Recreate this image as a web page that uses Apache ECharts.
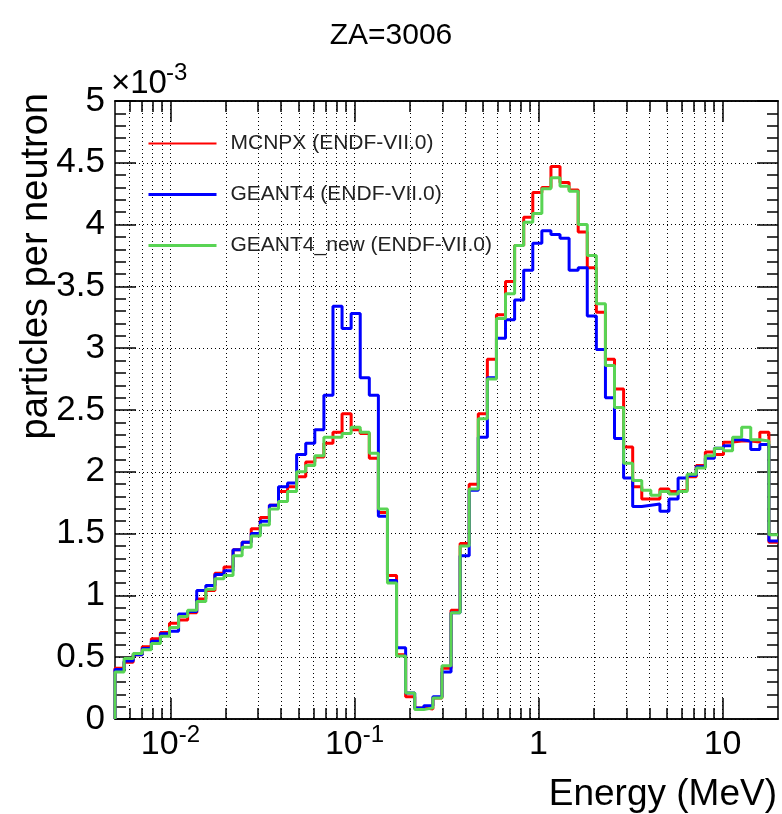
<!DOCTYPE html>
<html><head><meta charset="utf-8">
<script src="https://cdn.jsdelivr.net/npm/echarts@6.0.0/dist/echarts.min.js"></script>
<style>html,body{margin:0;padding:0;background:#fff}#c{width:782px;height:814px}</style>
</head><body><div id="c"></div>
<script>
const FONT = '"Liberation Sans", Arial, Helvetica, sans-serif';
const chartTitle = 'ZA=3006';
const xTitle = 'Energy (MeV)';
const yTitle = 'particles per neutron';
const yExponent = ['\u00d710', '-3'];
const seriesNames = ['MCNPX (ENDF-VII.0)', 'GEANT4 (ENDF-VII.0)', 'GEANT4_new (ENDF-VII.0)'];
const seriesColors = ['#ff0000', '#0000ff', '#59d454'];
// histogram binning (log bins over the axis range)
const eMin = 0.005, eMax = 20, nBins = 73;
// bin contents in units of 1e-3 particles per neutron
const mcnpx = [0.41,0.46,0.52,0.585,0.65,0.70,0.775,0.80,0.86,0.97,
  1.04,1.18,1.23,1.37,1.43,1.54,1.63,1.73,1.84,1.88,
  1.96,2.08,2.12,2.23,2.32,2.47,2.34,2.31,2.11,1.67,
  1.16,0.52,0.18,0.09,0.08,0.17,0.41,0.88,1.42,1.90,
  2.47,2.91,3.27,3.54,3.83,4.06,4.26,4.30,4.47,4.34,
  4.28,3.94,3.65,3.29,2.91,2.67,2.20,1.88,1.78,1.78,
  1.86,1.84,1.85,1.96,2.05,2.16,2.14,2.24,2.25,2.25,
  2.24,2.32,1.43];
const geant4 = [0.40,0.47,0.52,0.57,0.63,0.69,0.71,0.85,0.87,1.04,
  1.08,1.17,1.20,1.37,1.43,1.50,1.60,1.73,1.88,1.91,
  2.14,2.23,2.34,2.62,3.34,3.16,3.28,2.76,2.62,1.64,
  1.12,0.576,0.21,0.09,0.108,0.18,0.38,0.86,1.32,1.85,
  2.28,2.76,3.08,3.23,3.39,3.63,3.85,3.95,3.92,3.89,
  3.63,3.65,3.26,2.99,2.60,2.27,1.95,1.72,1.73,1.74,
  1.68,1.78,1.95,1.97,2.04,2.11,2.19,2.21,2.26,2.25,
  2.18,2.22,1.44];
const geant4New = [0.38,0.49,0.53,0.56,0.61,0.67,0.74,0.83,0.88,0.95,
  1.05,1.135,1.16,1.32,1.39,1.48,1.57,1.70,1.76,1.84,
  2.00,2.05,2.13,2.28,2.28,2.31,2.36,2.32,2.15,1.70,
  1.10,0.51,0.21,0.076,0.09,0.17,0.43,0.86,1.40,1.86,
  2.43,2.75,3.24,3.44,3.83,4.02,4.09,4.29,4.38,4.31,
  4.27,4.00,3.75,3.36,2.86,2.52,2.07,1.93,1.85,1.81,
  1.84,1.82,1.84,1.98,2.03,2.13,2.19,2.17,2.28,2.36,
  2.26,2.25,1.49];
const xMajorTicks = [0.01, 0.1, 1, 10];
const xMinorTicks = [0.006,0.007,0.008,0.009,0.02,0.03,0.04,0.05,0.06,0.07,0.08,0.09,
  0.2,0.3,0.4,0.5,0.6,0.7,0.8,0.9,2,3,4,5,6,7,8,9];
const yMin = 0, yMax = 5, yInterval = 0.5;
const legendLineWidths = [2, 3, 3];

const binEdges = Array.from({length: nBins + 1}, (_, k) => eMin * Math.pow(eMax / eMin, k / nBins));
function stepData(vals) {
  const d = [[binEdges[0], 0]];
  vals.forEach((v, k) => d.push([binEdges[k], v]));
  d.push([binEdges[nBins], vals[vals.length - 1]]);
  return d;
}
const dotted = {color: '#000', width: 1, type: [1, 3]};
const frameLine = {show: true, onZero: false, lineStyle: {color: '#000', width: 1.5}};
function xAx(grid, pos, ticks, len, labels, split) {
  return {
    gridIndex: grid, type: 'log', logBase: 10, min: eMin, max: eMax, position: pos,
    axisLine: frameLine,
    axisTick: {show: true, inside: true, length: len, customValues: ticks, lineStyle: {color: '#000', width: 1.5}},
    axisLabel: labels ? {
      show: true, customValues: ticks, margin: 4, color: '#000',
      formatter: v => { const e = Math.round(Math.log10(v)); if (e === 0) return '{b|1}'; if (e === 1) return '{b|10}'; return '{b|10}{s|' + e + '}'; },
      rich: {b: {fontSize: 34, fontFamily: FONT, color: '#000', lineHeight: 44}, s: {fontSize: 24, fontFamily: FONT, color: '#000', lineHeight: 23, verticalAlign: 'top'}}
    } : {show: false},
    splitLine: {show: split, lineStyle: dotted},
    minorTick: {show: false}, minorSplitLine: {show: false}
  };
}
function yAx(grid, pos, labels, split, show) {
  return {
    gridIndex: grid, type: 'value', min: yMin, max: yMax, interval: yInterval, position: pos, show: show,
    axisLine: frameLine,
    axisTick: {show: true, inside: true, length: 21, lineStyle: {color: '#000', width: 1.5}},
    minorTick: {show: true, splitNumber: 5, length: 11, lineStyle: {color: '#000', width: 1.5}},
    axisLabel: labels ? {show: true, margin: 10, color: '#000', fontSize: 35, fontFamily: FONT, showMinLabel: true, showMaxLabel: true} : {show: false},
    splitLine: {show: split, lineStyle: dotted}
  };
}
const vals = [mcnpx, geant4, geant4New];
const chart = echarts.init(document.getElementById('c'), null, {renderer: 'canvas'});
chart.setOption({
  animation: false,
  backgroundColor: '#fff',
  title: {text: chartTitle, left: 'center', top: 16, textStyle: {fontFamily: FONT, fontSize: 30, fontWeight: 'normal', color: '#000'}},
  grid: [
    {left: 115, top: 101, width: 663, height: 618, outerBoundsMode: 'none', containLabel: false},
    {left: 115, top: 101, width: 663, height: 618, outerBoundsMode: 'none', containLabel: false}
  ],
  xAxis: [
    xAx(0, 'bottom', xMajorTicks, 21, true, true),
    xAx(0, 'top', xMajorTicks, 21, false, false),
    xAx(1, 'bottom', xMinorTicks, 11, false, true),
    xAx(1, 'top', xMinorTicks, 11, false, false)
  ],
  yAxis: [
    yAx(0, 'left', true, true, true),
    yAx(0, 'right', false, false, true),
    yAx(1, 'left', false, false, false)
  ],
  legend: {
    left: 147, top: 133, padding: 0, orient: 'vertical', itemWidth: 68, itemHeight: 20, itemGap: 30,
    itemStyle: {opacity: 0},
    textStyle: {fontFamily: FONT, fontSize: 21, color: '#222', padding: [0, 0, 0, 9]},
    data: seriesNames.map((n, i) => ({name: n, lineStyle: {width: legendLineWidths[i]}}))
  },
  series: seriesNames.map((n, i) => ({
    name: n, type: 'line', xAxisIndex: 0, yAxisIndex: 0, step: 'end', symbol: 'none',
    data: stepData(vals[i]), color: seriesColors[i],
    lineStyle: {color: seriesColors[i], width: 3}, z: 3 + i
  })),
  graphic: [
    {type: 'text', x: 37, y: 93, rotation: Math.PI / 2, style: {text: yTitle, fontSize: 38, fontFamily: FONT, fill: '#000', align: 'right', verticalAlign: 'middle'}},
    {type: 'text', x: 777, y: 795, style: {text: xTitle, fontSize: 37, fontFamily: FONT, fill: '#000', align: 'right', verticalAlign: 'middle'}},
    {type: 'text', x: 111, y: 84, style: {text: yExponent[0], fontSize: 33, fontFamily: FONT, fill: '#000', align: 'left', verticalAlign: 'middle'}},
    {type: 'text', x: 166, y: 73, style: {text: yExponent[1], fontSize: 24, fontFamily: FONT, fill: '#000', align: 'left', verticalAlign: 'middle'}}
  ]
});
</script></body></html>
